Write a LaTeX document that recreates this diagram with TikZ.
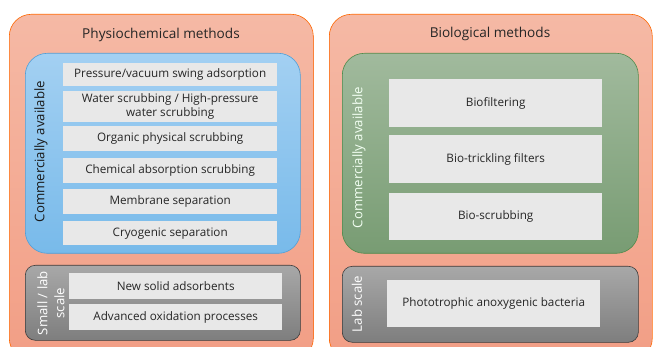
\documentclass[tikz,border=0pt]{standalone}
\usepackage{fontspec}
\setmainfont{Open Sans}
\begin{document}
\begin{tikzpicture}[x=1pt,y=-1pt,
  panel/.style={draw=orange!80!red, line width=0.6pt, rounded corners=22pt,
    top color=salmonTop, bottom color=salmonBot, anchor=north west, inner sep=0pt},
  bluebox/.style={draw=blueEdge, line width=0.6pt, rounded corners=22pt,
    top color=blueTop, bottom color=blueBot, anchor=north west, inner sep=0pt},
  greenbox/.style={draw=greenEdge, line width=0.6pt, rounded corners=22pt,
    top color=greenTop, bottom color=greenBot, anchor=north west, inner sep=0pt},
  greybox/.style={draw=greyEdge, line width=0.6pt, rounded corners=10pt,
    top color=greyTop, bottom color=greyBot, anchor=north west, inner sep=0pt},
  item/.style={fill=itemFill, anchor=north west, inner sep=0pt, align=center,
    font=\fontsize{11.7}{13.5}\selectfont, text=black!85},
  title/.style={font=\fontsize{13.6}{15}\selectfont, text=black!85},
  sidelabel/.style={rotate=90, font=\fontsize{13.2}{17}\selectfont, align=center}
]
\definecolor{salmonTop}{HTML}{F5B9A5}
\definecolor{salmonBot}{HTML}{F29E85}
\definecolor{blueTop}{HTML}{A3D0F2}
\definecolor{blueBot}{HTML}{78BAEA}
\definecolor{blueEdge}{HTML}{4F9FD8}
\definecolor{greenTop}{HTML}{A1BA9D}
\definecolor{greenBot}{HTML}{789C73}
\definecolor{greenEdge}{HTML}{4F8A4B}
\definecolor{greyTop}{HTML}{A8A8A8}
\definecolor{greyBot}{HTML}{7E7E7E}
\definecolor{greyEdge}{HTML}{3A3A3A}
\definecolor{itemFill}{HTML}{E8E8E8}

\useasboundingbox (0,0) rectangle (653,347);
\clip (0,0) rectangle (653,347);
\fill[white] (0,0) rectangle (653,347);

% outer panels
\node[panel, minimum width=304pt, minimum height=346pt] (left) at (9,14) {};
\node[panel, minimum width=323pt, minimum height=346pt] (right) at (329,14) {};
\node[title] (ltitle) at (161,35) {Physiochemical methods};
\node[title] (rtitle) at (490,34) {Biological methods};

% physicochemical: commercial and small scale groups
\node[bluebox, minimum width=275pt, minimum height=200pt] (lcom) at (25,53) {};
\node[greybox, minimum width=275pt, minimum height=75pt] (llab) at (25,265) {};
\node[sidelabel, text=black!90] (lcomlbl) at (41,151.5) {Commercially available};
\node[sidelabel, text=white] (llablbl) at (51,303) {Small / lab\\scale};

\node[item, minimum width=214pt, minimum height=23pt] (p1) at (63,63) {Pressure/vacuum swing adsorption};
\node[item, minimum width=214pt, minimum height=31pt] (p2) at (63,91) {Water scrubbing / High-pressure\\water scrubbing};
\node[item, minimum width=214pt, minimum height=25pt] (p3) at (63,126) {Organic physical scrubbing};
\node[item, minimum width=214pt, minimum height=25pt] (p4) at (63,158) {Chemical absorption scrubbing};
\node[item, minimum width=214pt, minimum height=25pt] (p5) at (63,189) {Membrane separation};
\node[item, minimum width=214pt, minimum height=24pt] (p6) at (63,221) {Cryogenic separation};
\node[item, minimum width=213pt, minimum height=26pt] (s1) at (69,273) {New solid adsorbents};
\node[item, minimum width=213pt, minimum height=26pt] (s2) at (69,304) {Advanced oxidation processes};

% biological: commercial and lab scale groups
\node[greenbox, minimum width=296pt, minimum height=200pt] (rcom) at (342,53) {};
\node[greybox, minimum width=296pt, minimum height=76pt] (rlab) at (342,266) {};
\node[sidelabel, text=white!95!green] (rcomlbl) at (359,157.5) {Commercially available};
\node[sidelabel, text=white] (rlablbl) at (357,304) {Lab scale};

\node[item, minimum width=213pt, minimum height=48pt] (b1) at (389,79) {Biofiltering};
\node[item, minimum width=213pt, minimum height=48pt] (b2) at (389,135) {Bio-trickling filters};
\node[item, minimum width=213pt, minimum height=47pt] (b3) at (389,193) {Bio-scrubbing};
\node[item, minimum width=213pt, minimum height=47pt] (l1) at (387,280) {Phototrophic anoxygenic bacteria};
\end{tikzpicture}
\end{document}
